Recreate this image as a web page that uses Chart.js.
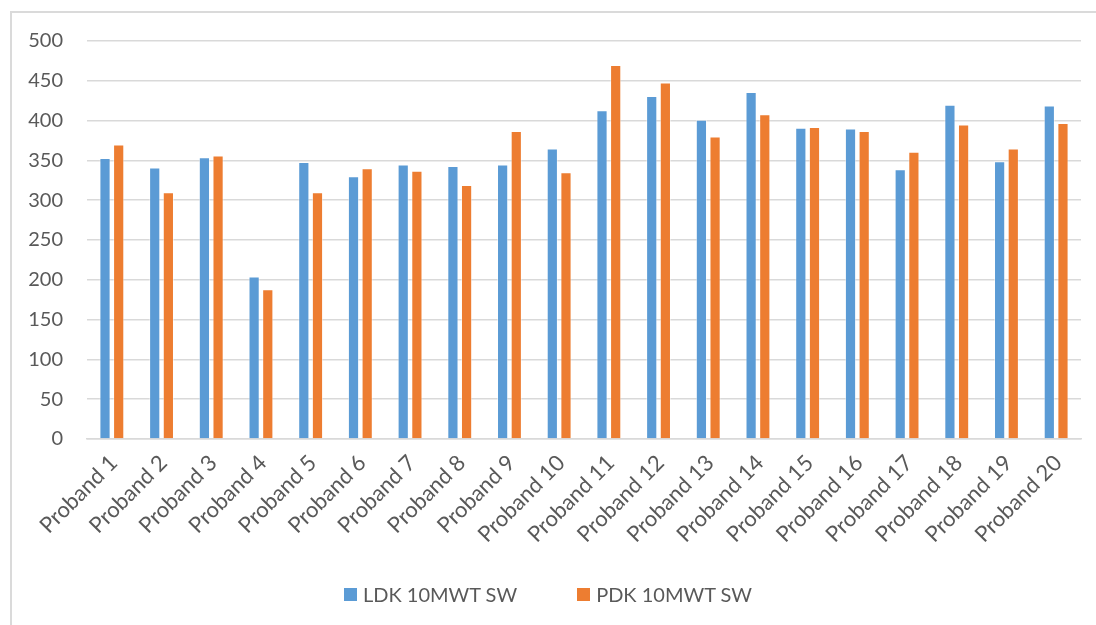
<!DOCTYPE html>
<html>
<head>
<meta charset="utf-8">
<script src="https://cdn.jsdelivr.net/npm/chart.js@4/dist/chart.umd.min.js"></script>
<style>
  html, body { margin: 0; padding: 0; background: #fff; }
  #wrap { position: relative; width: 1096px; height: 625px; overflow: hidden; }
  #frame { position: absolute; left: 10px; top: 11px; width: 1200px; height: 700px;
           border-left: 2px solid #dadada; border-top: 2px solid #dadada; }
  canvas { position: absolute; left: 0; top: 0; }
  #legend { position: absolute; left: 0; width: 1096px; top: 582px; display: flex;
            justify-content: center; font-family: Lato, "Open Sans", sans-serif;
            font-size: 20px; color: #595959; }
  .item { display: flex; align-items: center; margin: 0 30px 0 30px; }
  .sw { width: 13px; height: 13px; margin-right: 6px; }
</style>
</head>
<body>
<div id="wrap">
  <div id="frame"></div>
  <canvas id="c" width="1096" height="625"></canvas>
  <div id="legend"></div>
</div>
<script>
const categories = Array.from({ length: 20 }, (_, i) => 'Proband ' + (i + 1));
const ldkValues = [353, 341, 354, 204, 348, 330, 345, 343, 345, 365,
                   413, 431, 401, 436, 391, 390, 339, 420, 349, 419];
const pdkValues = [370, 310, 356, 188, 310, 340, 337, 319, 387, 335,
                   470, 448, 380, 408, 392, 387, 361, 395, 365, 397];
const seriesNames = ['LDK 10MWT SW', 'PDK 10MWT SW'];
const seriesColors = ['#5B9BD5', '#ED7D31'];

const fontFamily = 'Lato, "Open Sans", sans-serif';
const textColor = '#595959';

const chart = new Chart(document.getElementById('c'), {
  type: 'bar',
  data: {
    labels: categories,
    datasets: [ldkValues, pdkValues].map((vals, i) => ({
      label: seriesNames[i],
      data: vals,
      backgroundColor: seriesColors[i],
      borderColor: 'rgba(255,255,255,0.45)',
      borderWidth: 1,
      categoryPercentage: 0.55,
      barPercentage: 0.82
    }))
  },
  options: {
    responsive: false,
    devicePixelRatio: 1,
    animation: false,
    layout: { padding: { top: 41, right: 15, bottom: 0, left: 0 } },
    plugins: { legend: { display: false }, tooltip: { enabled: false } },
    scales: {
      y: {
        min: 0, max: 500,
        ticks: { stepSize: 50, padding: 24, color: textColor, font: { family: fontFamily, size: 20 } },
        grid: { color: '#d9d9d9', lineWidth: 1.5, drawTicks: false },
        border: { display: false },
        afterFit: s => { s.width = 87; }
      },
      x: {
        ticks: { minRotation: 45, maxRotation: 45, padding: 11, labelOffset: 2, color: textColor,
                 font: { family: fontFamily, size: 22 } },
        grid: { display: false, drawTicks: false },
        border: { display: true, color: '#d9d9d9', width: 1.5 },
        afterFit: s => { s.height = 186; }
      }
    }
  }
});

// Legend entries built from the dataset names and colours
const legend = document.getElementById('legend');
chart.data.datasets.forEach(ds => {
  const item = document.createElement('div');
  item.className = 'item';
  const sw = document.createElement('span');
  sw.className = 'sw';
  sw.style.background = ds.backgroundColor;
  const txt = document.createElement('span');
  txt.textContent = ds.label;
  item.appendChild(sw);
  item.appendChild(txt);
  legend.appendChild(item);
});
</script>
</body>
</html>
